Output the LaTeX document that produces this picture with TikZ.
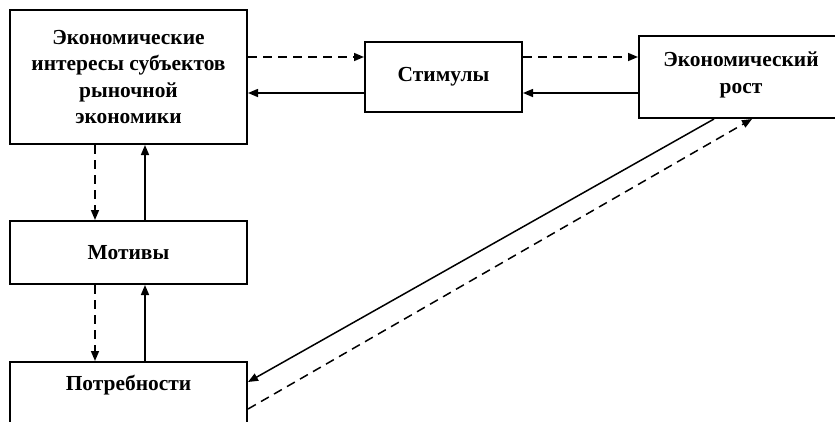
\documentclass[tikz,border=0pt]{standalone}
\usepackage{fontspec}
\setmainfont{Liberation Serif}
\usetikzlibrary{arrows.meta,calc}
\begin{document}
\begin{tikzpicture}[x=1bp,y=-1bp,
  box/.style={draw,line width=2bp,rectangle,inner sep=0pt,align=center,
    font=\fontsize{21.5}{26.5}\selectfont\bfseries},
  txt/.style={inner sep=0pt,align=center,font=\fontsize{21.5}{26.5}\selectfont\bfseries},
  con/.style={line width=1.5bp,-{Triangle[length=10bp,width=8bp]}},
  dsh/.style={con,dash pattern=on 9bp off 6bp}]
\useasboundingbox (0,0) rectangle (835,421);
\clip (0,0) rectangle (835,421);
\fill[white] (0,0) rectangle (835,421);
\node[box,minimum width=237bp,minimum height=134bp] (eint) at (128.5,77)
  {Экономические\\интересы субъектов\\рыночной\\экономики};
\node[box,minimum width=157bp,minimum height=70bp] (stim) at (443.5,77) {Стимулы};
\node[box,minimum width=211bp,minimum height=82bp] (grow) at (744.5,77) {};
\node[txt] (growt) at (741,75) {Экономический\\рост};
\node[box,minimum width=237bp,minimum height=63bp] (mot) at (128.5,252.5) {Мотивы};
\node[box,minimum width=237bp,minimum height=88bp] (potr) at (128.5,406) {};
\node[txt] (potrt) at (128.5,385) {Потребности};
% horizontal
\draw[dsh] ($(eint.east)+(0,-20)$) -- ($(stim.west)+(0,-20)$);
\draw[con] ($(stim.west)+(0,16)$) -- ($(eint.east)+(0,16)$);
\draw[dsh] ($(stim.east)+(0,-20)$) -- ($(grow.west)+(0,-20)$);
\draw[con] ($(grow.west)+(0,16)$) -- ($(stim.east)+(0,16)$);
% vertical
\draw[dsh] ($(eint.south west)+(86,0)$) -- ($(mot.north west)+(86,0)$);
\draw[con] ($(mot.north west)+(136,0)$) -- ($(eint.south west)+(136,0)$);
\draw[dsh] ($(mot.south west)+(86,0)$) -- ($(potr.north west)+(86,0)$);
\draw[con] ($(potr.north west)+(136,0)$) -- ($(mot.south west)+(136,0)$);
% diagonal
\draw[con] ($(grow.south west)+(76,0)$) -- ($(potr.north east)+(0,21)$);
\draw[dsh] ($(potr.north east)+(0,48)$) -- ($(grow.south west)+(114,0)$);
\end{tikzpicture}
\end{document}
